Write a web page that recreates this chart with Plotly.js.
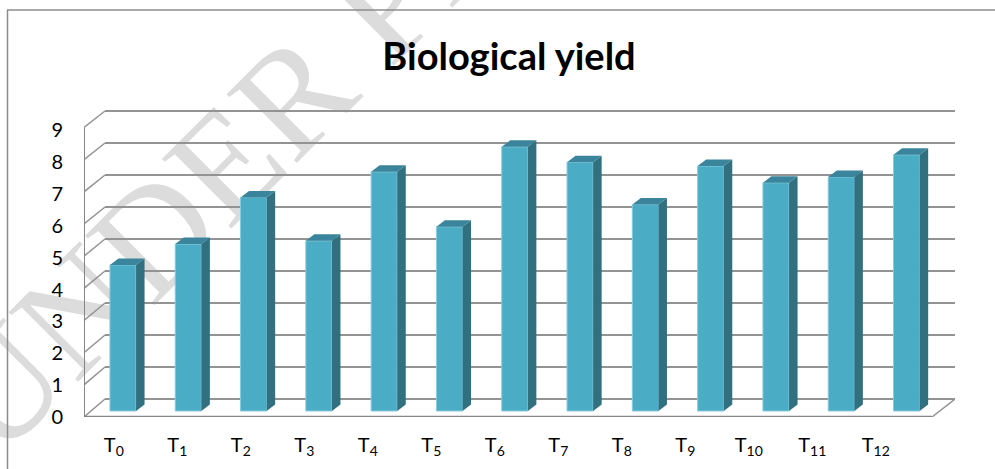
<!DOCTYPE html>
<html><head><meta charset="utf-8">
<script src="https://cdn.plot.ly/plotly-3.0.1.min.js"></script>
<style>html,body{margin:0;padding:0;background:#fff}#c{width:995px;height:469px}</style>
</head><body><div id="c"></div>
<script>
const categories = ['T<sub>0</sub>','T<sub>1</sub>','T<sub>2</sub>','T<sub>3</sub>','T<sub>4</sub>','T<sub>5</sub>','T<sub>6</sub>','T<sub>7</sub>','T<sub>8</sub>','T<sub>9</sub>','T<sub>10</sub>','T<sub>11</sub>','T<sub>12</sub>'];
const values = [4.55,5.2,6.65,5.3,7.45,5.74,8.23,7.75,6.43,7.63,7.11,7.29,7.98];
const yTicks = [0,1,2,3,4,5,6,7,8,9];
const titleText = 'Biological yield';
const watermark = 'UNDER PEER REVIEW';

const W=995,H=469,L=84,R=955,T=100,B=417;
const uy=32.1, ux=65.3;
const x0=(L-123)/ux, x1=(R-123)/ux, y0=(411-B)/uy, y1=(411-T)/uy;
const idx=categories.map((_,i)=>i);
const bw=0.4, dx=8.5/ux, dy=6.5/uy;

// side and top faces of the pseudo-3D columns
const sx=[],sy=[],tx=[],ty=[];
values.forEach((v,i)=>{
  const r=i+bw/2,l=i-bw/2;
  sx.push(r,r+dx,r+dx,r,r,null); sy.push(0,dy,v+dy,v,0,null);
  tx.push(l,l+dx,r+dx,r,l,null); ty.push(v,v+dy,v+dy,v,v,null);
});

// walls
const fy=v=>(411-(417-32.17*v))/uy, by=v=>(411-(399-32*v))/uy;
const xFront=x0, xBack=(105-123)/ux, xFR=(932-123)/ux;
const gridC='#939393', axC='#868686';
const seg=(xa,ya,xb,yb,w,c)=>({type:'line',xref:'x',yref:'y',x0:xa,y0:ya,x1:xb,y1:yb,layer:'below',line:{color:c,width:w}});
const wmX=496, wmY=-131;
const shapes=[{
  type:'rect',xref:'paper',yref:'paper',x0:(wmX-L-5)/(R-L),x1:(wmX-L+5)/(R-L),y0:(B-wmY-5)/(B-T),y1:(B-wmY+5)/(B-T),
  layer:'below',line:{width:0},fillcolor:'rgba(0,0,0,0)',
  label:{text:watermark,textangle:-45,textposition:'middle center',font:{family:'Liberation Serif',size:150,color:'#dcdcdc'}}
}];
yTicks.forEach(v=>{
  shapes.push(seg(xBack,by(v),x1,by(v),2,gridC));
  shapes.push(seg(xFront,fy(v),xBack,by(v),1.5,gridC));
});
shapes.push(seg(xFR,fy(0),x1,by(0),1.5,gridC));
shapes.push(seg(xFront,fy(0),xFR,fy(0),2.5,axC));
shapes.push(seg(xFront,fy(0),xFront,fy(9),2,axC));
// chart frame
const px=p=>(p-L)/(R-L), py=p=>(B-p)/(B-T);
shapes.push({type:'line',xref:'paper',yref:'paper',x0:px(7.5),x1:px(7.5),y0:py(10),y1:py(469),line:{color:'#8c8c8c',width:1.5}});
shapes.push({type:'line',xref:'paper',yref:'paper',x0:px(7),x1:px(995),y0:py(10),y1:py(10),line:{color:'#8c8c8c',width:1.5}});

const data=[
 {type:'bar',x:idx,y:values,width:bw,marker:{color:'#4BACC6',line:{color:'#86cbdc',width:1}},hoverinfo:'skip'},
 {type:'scatter',x:sx,y:sy,mode:'lines',fill:'toself',fillcolor:'#31707F',line:{width:0},hoverinfo:'skip'},
 {type:'scatter',x:tx,y:ty,mode:'lines',fill:'toself',fillcolor:'#3A859B',line:{width:0},hoverinfo:'skip'},
 {type:'scatter',x:idx,y:idx.map(()=>0),xaxis:'x2',yaxis:'y2',mode:'markers',marker:{opacity:0},hoverinfo:'skip'}
];
const tickFont={family:'Lato, Carlito, sans-serif',size:20,color:'#000'};
const layout={
 width:W,height:H,showlegend:false,paper_bgcolor:'rgba(255,255,255,1)',plot_bgcolor:'rgba(0,0,0,0)',
 margin:{l:L,r:W-R,t:T,b:H-B,pad:0},
 title:{text:'<b>'+titleText+'</b>',x:509/W,xanchor:'center',y:1-57/H,yanchor:'middle',font:{family:'Lato, Carlito, sans-serif',size:38,color:'#000'}},
 xaxis:{visible:false,range:[x0,x1],fixedrange:true},
 yaxis:{visible:false,range:[y0,y1],fixedrange:true},
 xaxis2:{overlaying:'x',anchor:'y2',side:'bottom',range:[(L-113.8)/63.5,(R-113.8)/63.5],tickmode:'array',tickvals:idx,ticktext:categories,showgrid:false,zeroline:false,showline:false,ticks:'',ticklabelstandoff:14,tickfont:{...tickFont},fixedrange:true},
 yaxis2:{overlaying:'y',anchor:'x2',side:'left',range:[0,(B-T)/31.85],tickmode:'array',tickvals:yTicks,showgrid:false,zeroline:false,showline:false,ticks:'',ticklabelstandoff:20,tickfont:{...tickFont},fixedrange:true},
 shapes:shapes
};
Plotly.newPlot('c',data,layout,{displayModeBar:false,staticPlot:true});
</script></body></html>
